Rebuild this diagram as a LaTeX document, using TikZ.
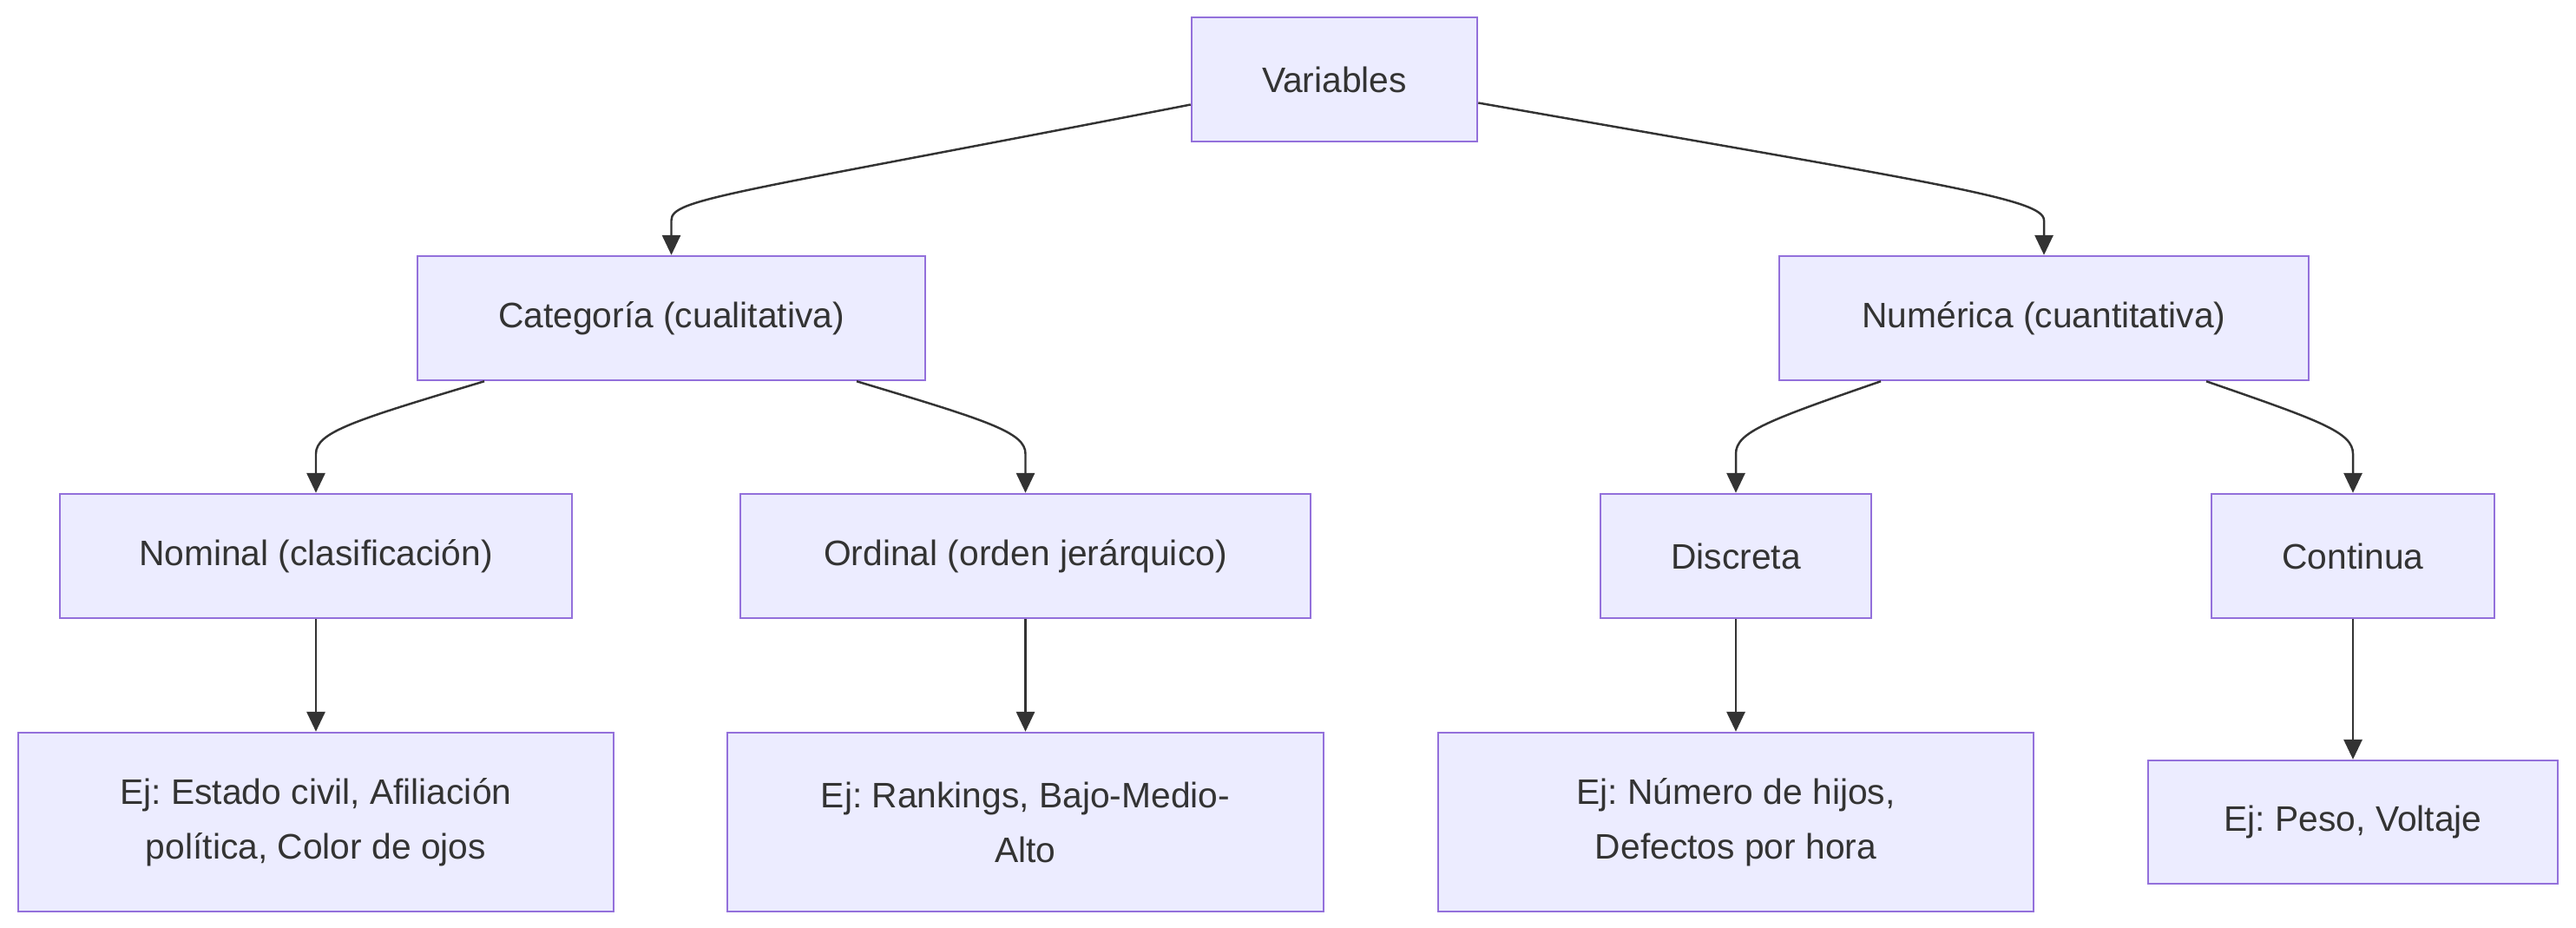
\documentclass[tikz,border=0pt]{standalone}
\usepackage{fontspec}
\setmainfont{Liberation Sans}
\usetikzlibrary{arrows.meta}
\definecolor{boxfill}{HTML}{ECECFF}
\definecolor{boxline}{HTML}{9370DB}
\definecolor{ink}{HTML}{333333}
\frenchspacing
\tikzstyle{box}=[draw=boxline, fill=boxfill, line width=0.7pt, text=ink, minimum height=1.43cm, align=center, inner sep=0pt, font=\fontsize{11.6pt}{17.9pt}\selectfont]
\tikzstyle{edge}=[draw=ink, line width=0.7pt, -{Triangle[length=6.5pt, width=6pt]}]

\begin{document}
\begin{tikzpicture}[x=1cm, y=-1cm]
\useasboundingbox (0,0) rectangle (29.68,10.68);
% Root
    \node[box, minimum width=3.29cm] (var) at (15.375,0.915) {Variables};
% Kinds
    \node[box, minimum width=5.85cm] (cat) at (7.735,3.665) {Categoría (cualitativa)};
    \node[box, minimum width=6.10cm] (num) at (23.55,3.665) {Numérica (cuantitativa)};
% Sub kinds
    \node[box, minimum width=5.90cm] (nom) at (3.64,6.405) {Nominal (clasificación)};
    \node[box, minimum width=6.57cm] (ord) at (11.815,6.405) {Ordinal (orden jerárquico)};
    \node[box, minimum width=3.12cm] (dis) at (20.00,6.405) {Discreta};
    \node[box, minimum width=3.26cm] (con) at (27.11,6.405) {Continua};
% Examples
    \node[box, minimum width=6.86cm, minimum height=2.06cm] (exnom) at (3.64,9.47) {Ej: Estado civil, Afiliación\\política, Color de ojos};
    \node[box, minimum width=6.87cm, minimum height=2.06cm] (exord) at (11.815,9.47) {Ej: Rankings, Bajo-Medio-\\Alto};
    \node[box, minimum width=6.86cm, minimum height=2.06cm] (exdis) at (20.00,9.47) {Ej: Número de hijos,\\Defectos por hora};
    \node[box, minimum width=4.72cm, minimum height=1.42cm] (excon) at (27.11,9.47) {Ej: Peso, Voltaje};
% Curved edges
    \draw[edge] ([yshift=-0.29cm]var.west) .. controls +(-5.3,1.03) and +(0,-0.25) .. ([yshift=0.4cm]cat.north) -- (cat.north);
    \draw[edge] ([yshift=-0.27cm]var.east) .. controls +(5.3,0.93) and +(0,-0.25) .. ([yshift=0.4cm]num.north) -- (num.north);
    \draw[edge] ([xshift=-2.155cm]cat.south) .. controls +(-1.5,0.45) and +(0,-0.25) .. ([yshift=0.45cm]nom.north) -- (nom.north);
    \draw[edge] ([xshift=2.135cm]cat.south) .. controls +(1.5,0.45) and +(0,-0.25) .. ([yshift=0.45cm]ord.north) -- (ord.north);
    \draw[edge] ([xshift=-1.88cm]num.south) .. controls +(-1.3,0.45) and +(0,-0.25) .. ([yshift=0.45cm]dis.north) -- (dis.north);
    \draw[edge] ([xshift=1.87cm]num.south) .. controls +(1.3,0.45) and +(0,-0.25) .. ([yshift=0.45cm]con.north) -- (con.north);
% Straight edges
    \draw[edge] (nom) -- (exnom);
    \draw[edge] (ord) -- (exord);
    \draw[edge] (dis) -- (exdis);
    \draw[edge] (con) -- (excon);
\end{tikzpicture}
\end{document}
